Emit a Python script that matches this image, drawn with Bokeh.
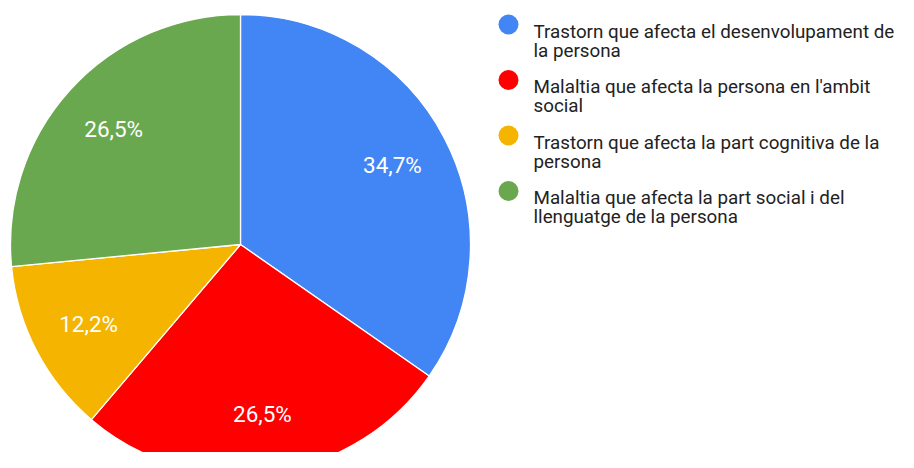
import math
from bokeh.plotting import figure
from bokeh.models import ColumnDataSource, Range1d
from bokeh.core.properties import value
from bokeh.embed import file_html
from bokeh.resources import INLINE

# ---- data ----
categories = [
    "Trastorn que afecta el desenvolupament de\nla persona",
    "Malaltia que afecta la persona en l'ambit\nsocial",
    "Trastorn que afecta la part cognitiva de la\npersona",
    "Malaltia que afecta la part social i del\nllenguatge de la persona",
]
counts = [17, 13, 6, 13]
colors = ["#4285F4", "#FF0000", "#F4B400", "#6AA84F"]

# ---- layout (picture pixel coordinates, y measured downward) ----
W, H = 898, 452
def py(y):  # y down -> data y up
    return H - y

CX, CY, R = 240, 244, 230
LABEL_F = 0.745

total = sum(counts)
fracs = [c / total for c in counts]
starts, ends, mids = [], [], []
cum = 0.0
for f in fracs:
    starts.append(math.pi / 2 - cum * 2 * math.pi)
    mids.append((cum + f / 2) * 2 * math.pi)
    cum += f
    ends.append(math.pi / 2 - cum * 2 * math.pi)

labels = [("%.1f%%" % (f * 100)).replace(".", ",") for f in fracs]
lx = [CX + LABEL_F * R * math.sin(m) for m in mids]
ly = [py(CY) + LABEL_F * R * math.cos(m) for m in mids]

p = figure(width=W, height=H, output_backend="svg", toolbar_location=None,
           x_range=Range1d(0, W), y_range=Range1d(0, H), min_border=0)
p.axis.visible = False
p.grid.visible = False
p.outline_line_color = None
p.background_fill_color = "white"
p.border_fill_color = "white"

src = ColumnDataSource(dict(start=starts, end=ends, color=colors,
                            lx=lx, ly=ly, label=labels))
p.wedge(x=CX, y=py(CY), radius=R, start_angle="start", end_angle="end",
        direction="clock", fill_color="color", line_color="white",
        line_width=1.3, source=src)
p.text(x="lx", y="ly", text="label", source=src, text_color="white",
       text_font=value("Roboto"), text_font_size="22.5px",
       text_align="center", text_baseline="middle")

# legend
LEG_X, LEG_Y0, LEG_DY, TXT_DX, BASE_DY, LINE_DY = 508, 24, 55.5, 25, 7, 19
leg_y = [py(LEG_Y0 + i * LEG_DY) for i in range(len(categories))]
p.scatter(x=[LEG_X] * len(categories), y=leg_y, size=20, marker="circle",
          fill_color=colors, line_color=None)
tx, ty, tt = [], [], []
for i, cat in enumerate(categories):
    for j, line in enumerate(cat.split("\n")):
        tx.append(LEG_X + TXT_DX)
        ty.append(py(LEG_Y0 + i * LEG_DY + BASE_DY + j * LINE_DY))
        tt.append(line)
p.text(x=tx, y=ty, text=tt, text_color="#222222",
       text_font=value("Roboto"), text_font_size="18.8px",
       text_align="left", text_baseline="alphabetic")

open("out.html", "w").write(file_html(p, INLINE))
